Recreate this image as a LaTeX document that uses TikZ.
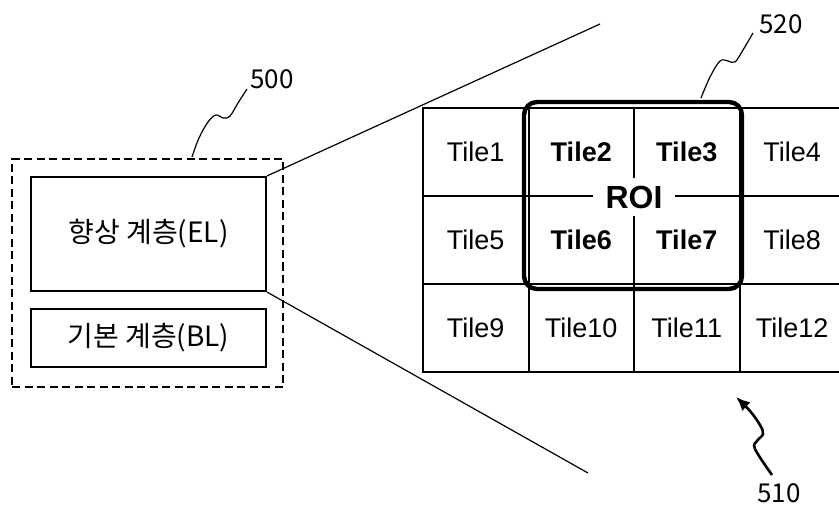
\documentclass[tikz,border=0pt]{standalone}
\usepackage{fontspec}
\setmainfont{Liberation Sans}
\newfontfamily\krfont{Noto Sans CJK KR}
\usetikzlibrary{arrows.meta}
\tikzset{
  tile/.style={draw, line width=2pt, minimum width=105.5pt, minimum height=88pt, inner sep=0pt, font=\fontsize{27}{32}\selectfont},
  btile/.style={tile, font=\fontsize{27}{32}\selectfont\bfseries},
  layer/.style={draw, line width=2.2pt, inner sep=0pt, font=\krfont\fontsize{28}{33}\selectfont},
  refnum/.style={font=\krfont\fontsize{26}{30}\selectfont, inner sep=0pt},
  thin/.style={line width=1.2pt},
}
\begin{document}
\begin{tikzpicture}[x=1pt,y=-1pt]
\clip (0,0) rectangle (839,508);
\fill[white] (0,0) rectangle (839,508);
% left stack
\node[draw, line width=2.2pt, dash pattern=on 8pt off 4.5pt, minimum width=271pt, minimum height=228pt] (outer) at (147.5,273) {};
\node[layer, minimum width=235pt, minimum height=114pt] (el) at (148.5,234) {향상 계층(EL)};
\node[layer, minimum width=235pt, minimum height=58pt] (bl) at (148.5,338) {기본 계층(BL)};
% tiles
\node[tile]  (t1)  at (475.75,152) {Tile1};
\node[btile] (t2)  at (581.25,152) {Tile2};
\node[btile] (t3)  at (686.75,152) {Tile3};
\node[tile]  (t4)  at (792.25,152) {Tile4};
\node[tile]  (t5)  at (475.75,240) {Tile5};
\node[btile] (t6)  at (581.25,240) {Tile6};
\node[btile] (t7)  at (686.75,240) {Tile7};
\node[tile]  (t8)  at (792.25,240) {Tile8};
\node[tile]  (t9)  at (475.75,328) {Tile9};
\node[tile]  (t10) at (581.25,328) {Tile10};
\node[tile]  (t11) at (686.75,328) {Tile11};
\node[tile]  (t12) at (792.25,328) {Tile12};
% ROI
\node[draw, line width=4.4pt, rounded corners=13pt, minimum width=218pt, minimum height=187pt] (roi) at (633,195.5) {};
\node[fill=white, inner xsep=13pt, inner ysep=8pt, font=\fontsize{32}{36}\selectfont\bfseries] (roilabel) at (634,197) {ROI};
% perspective lines
\coordinate (ptop) at (600,24);
\coordinate (pbot) at (588,473);
\draw[thin] (el.north east) -- (ptop);
\draw[thin] (el.south east) -- (pbot);
% reference numerals
\node[refnum] (n500) at (272,79) {500};
\node[refnum] (n520) at (781,24) {520};
\node[refnum] (n510) at (779,493) {510};
\draw[thin] plot[smooth, tension=0.6] coordinates {(192,157) (199,138) (208,122) (216,115) (223,118) (230,116) (238,103) (247,89)};
\draw[thin] plot[smooth, tension=0.6] coordinates {(701,98) (710,77) (720,61) (728,61) (735,62) (743,50) (753,33)};
\draw[line width=2.6pt, -{Latex[length=14pt,width=12pt]}] plot[smooth, tension=0.6] coordinates {(772,475) (755,449) (757,441) (763,434) (760,425) (750,411) (736,397)};
\end{tikzpicture}
\end{document}
